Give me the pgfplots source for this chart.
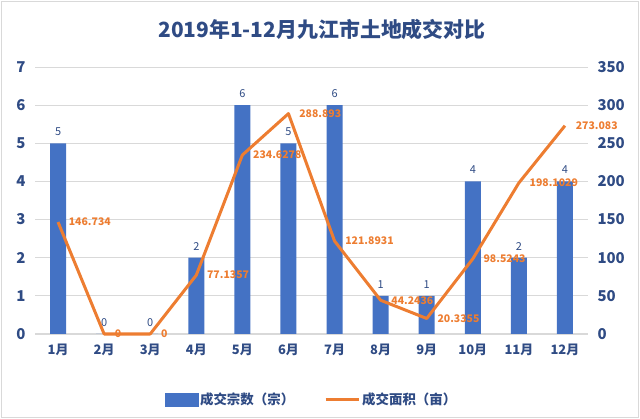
\documentclass[border=0pt]{standalone}
\usepackage{pgfplots}
\pgfplotsset{compat=1.18}
\usepackage{pgfplotstable}
\usepackage{fontspec}
\setmainfont{Noto Sans CJK SC}
\definecolor{barc}{HTML}{4472C4}
\definecolor{linec}{HTML}{ED7D31}
\definecolor{tc}{HTML}{2F4B84}
\definecolor{gridc}{HTML}{D9D9D9}
\pgfplotstableread{
x y label
0 146.734 146.734
1 0 0
2 0 0
3 77.1357 77.1357
4 234.6278 234.6278
5 288.893 288.893
6 121.8931 121.8931
7 44.2436 44.2436
8 20.3355 20.3355
9 98.5243 98.5243
10 198.1029 198.1029
11 273.083 273.083
}\areatable
\pgfplotstableread{
x y
0 5
1 0
2 0
3 2
4 6
5 5
6 6
7 1
8 1
9 4
10 2
11 4
}\counttable
\begin{document}
\begin{tikzpicture}
\path[use as bounding box] (0bp,0bp) rectangle (640bp,419bp);
\draw[gridc, line width=1bp] (1.5bp,1.5bp) rectangle (638.5bp,417.5bp);
\node[font=\bfseries\fontsize{21}{21}\selectfont, text=tc] at (322bp,389bp) {2019年1-12月九江市土地成交对比};
\begin{axis}[
  at={(35bp,85bp)}, anchor=south west, scale only axis,
  width=553bp, height=267bp,
  xmin=-0.5, xmax=11.5, ymin=0, ymax=7,
  ytick={0,1,...,7}, xtick={0,1,...,11},
  xticklabels={1月,2月,3月,4月,5月,6月,7月,8月,9月,10月,11月,12月},
  axis x line*=bottom, axis y line*=left,
  y axis line style={draw=none},
  x axis line style={draw=gridc, line width=1bp},
  ymajorgrids, grid style={gridc, line width=0.8bp},
  major tick length=0pt,
  /pgf/number format/assume math mode=true,
  yticklabel style={font=\bfseries\fontsize{15}{15}\selectfont, text=tc, xshift=-6bp},
  xticklabel style={font=\bfseries\fontsize{13}{13}\selectfont, text=tc, yshift=-6bp},
]
\addplot[ybar, bar width=16bp, fill=barc, draw=none,
  nodes near coords,
  nodes near coords style={font=\fontsize{11}{11}\selectfont, text=tc, yshift=4bp}]
  table[x=x, y=y] {\counttable};
\end{axis}
\begin{axis}[
  at={(35bp,85bp)}, anchor=south west, scale only axis,
  width=553bp, height=267bp,
  xmin=-0.5, xmax=11.5, ymin=0, ymax=350,
  ytick={0,50,...,350},
  axis y line*=right, hide x axis,
  y axis line style={draw=none},
  major tick length=0pt,
  clip=false,
  /pgf/number format/assume math mode=true,
  yticklabel style={font=\bfseries\fontsize{15}{15}\selectfont, text=tc, xshift=6bp},
  legend style={at={(0.5,-0.245)}, anchor=center, draw=none, fill=none,
    legend columns=2, font=\bfseries\fontsize{13.5}{13.5}\selectfont, text=tc,
    /tikz/every even column/.append style={column sep=28bp}},
  legend cell align=left,
]
\addlegendimage{legend image code/.code={\fill[barc] (0bp,-6.5bp) rectangle (33bp,6.5bp);}}
\addlegendentry{成交宗数（宗）}
\addplot[linec, line width=3bp, line join=round, mark=none,
  nodes near coords, point meta=explicit symbolic,
  nodes near coords style={anchor=west, xshift=6bp, font=\bfseries\fontsize{10.5}{10.5}\selectfont, text=linec},
  legend image code/.code={\draw[linec, line width=3bp] (0bp,0bp) -- (33bp,0bp);}]
  table[x=x, y=y, meta=label] {\areatable};
\addlegendentry{成交面积（亩）}
\end{axis}
\end{tikzpicture}
\end{document}
